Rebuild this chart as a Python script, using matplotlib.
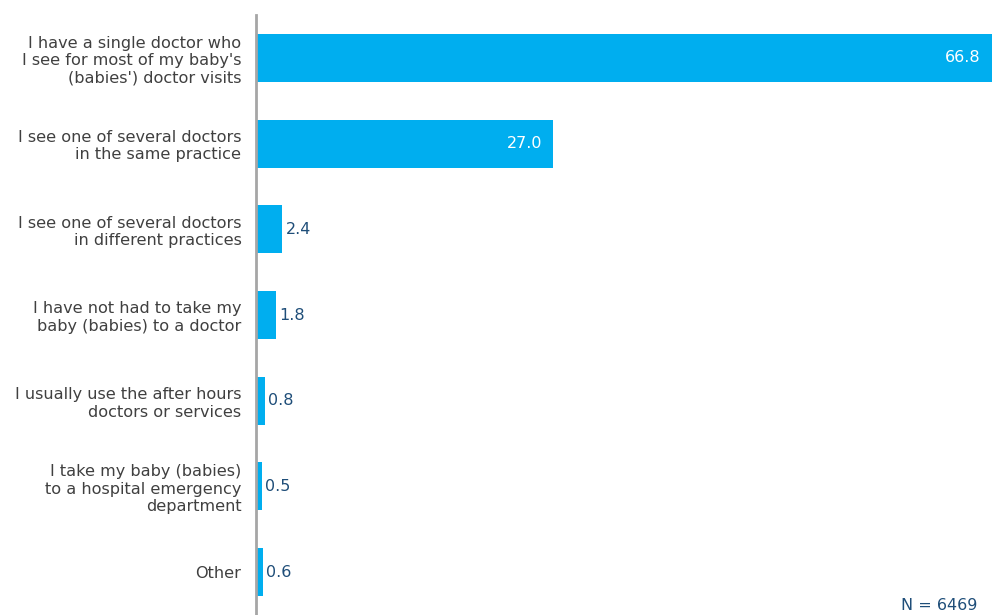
import matplotlib
matplotlib.use("Agg")
import matplotlib.pyplot as plt

# data
categories = [
    "I have a single doctor who\nI see for most of my baby's\n(babies') doctor visits",
    "I see one of several doctors\nin the same practice",
    "I see one of several doctors\nin different practices",
    "I have not had to take my\nbaby (babies) to a doctor",
    "I usually use the after hours\ndoctors or services",
    "I take my baby (babies)\nto a hospital emergency\ndepartment",
    "Other",
]
values = [66.8, 27.0, 2.4, 1.8, 0.8, 0.5, 0.6]
n_label = "N = 6469"

bar_color = "#00AEEF"
label_color = "#404040"
value_color = "#1F4E79"

plt.rcParams['font.family'] = ['DejaVu Sans']

fig = plt.figure(figsize=(9.92, 6.15), dpi=100)
ax = fig.add_axes([256 / 992, 0, 1 - 256 / 992, 600 / 615])

y = list(range(len(categories)))
ax.barh(y, values, height=0.56, color=bar_color)
ax.set_xlim(0, max(values))
ax.set_ylim(len(categories) - 0.5, -0.5)

for i, v in enumerate(values):
    if v > 10:
        ax.annotate(f"{v:.1f}", (v, i), xytext=(-8, 0), textcoords="offset points",
                    ha="right", va="center", color="white", fontsize=11.5)
    else:
        ax.annotate(f"{v:.1f}", (v, i), xytext=(2.5, 0), textcoords="offset points",
                    ha="left", va="center", color=value_color, fontsize=11.5)

ax.set_yticks(y)
ax.set_yticklabels(categories, fontsize=11.6, color=label_color, linespacing=1.2)
ax.tick_params(axis="y", length=0, pad=10.5)
ax.set_xticks([])

for s in ["top", "right", "bottom"]:
    ax.spines[s].set_visible(False)
ax.spines["left"].set_color("#A6A6A6")
ax.spines["left"].set_linewidth(2)

fig.text(0.985, 0.003, n_label, ha="right", va="bottom", color=value_color, fontsize=11.5)

fig.savefig("out.png", dpi=100)
